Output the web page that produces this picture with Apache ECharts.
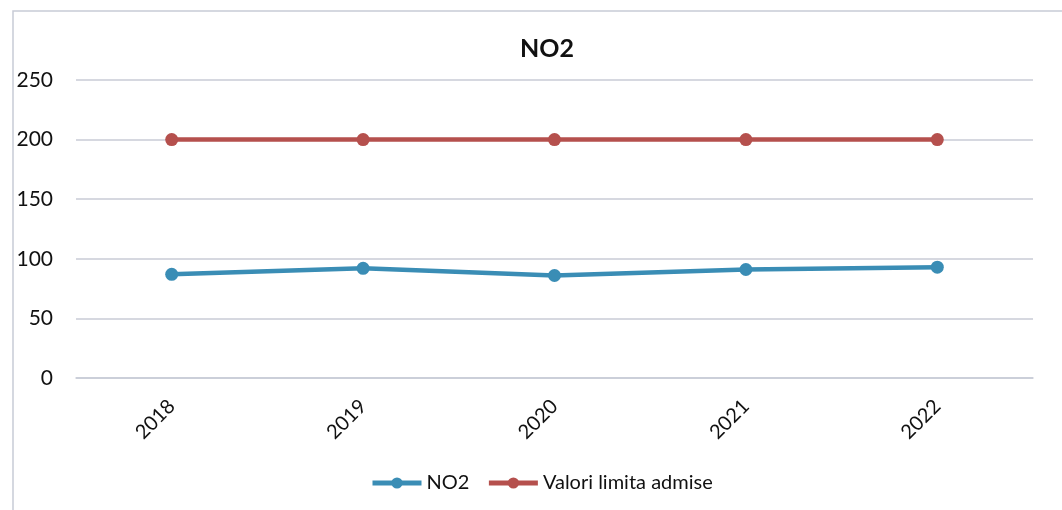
<!DOCTYPE html>
<html><head><meta charset="utf-8">
<script src="https://cdn.jsdelivr.net/npm/echarts@6/dist/echarts.min.js"></script>
<style>html,body{margin:0;padding:0;background:#fff}#c{width:1062px;height:510px}</style>
</head><body><div id="c"></div>
<script>
const categories = ['2018','2019','2020','2021','2022'];
const no2Values = [87, 92, 86, 91, 93];
const limitValues = [200, 200, 200, 200, 200];
const seriesNames = ['NO2', 'Valori limita admise'];
const chartTitle = 'NO2';

const font = 'Lato, "Open Sans", sans-serif';
const chart = echarts.init(document.getElementById('c'));
chart.setOption({
  animation: false,
  backgroundColor: '#fff',
  graphic: [{type:'rect', shape:{x:13, y:11, width:1060, height:520}, style:{fill:'none', stroke:'#c8cbd6', lineWidth:1.5}, silent:true}],
  title: {text: chartTitle, left: 515, top: 31, textStyle:{fontFamily:font, fontSize:25, fontWeight:'bold', color:'#111'}},
  grid: {left: 76, right: 29, top: 80, bottom: 132},
  legend: {bottom: 12, left: 365, itemWidth: 49, itemHeight: 14, itemGap: 17,
    lineStyle:{width:5},
    textStyle:{fontFamily:font, fontSize:20, color:'#111'}, data: seriesNames},
  xAxis: {type:'category', data: categories, boundaryGap: true,
    axisLine:{show:true, lineStyle:{color:'#c8cbd6', width:1.5}}, axisTick:{show:false},
    axisLabel:{rotate:45, fontFamily:font, fontSize:20, color:'#111', margin:25}},
  yAxis: {type:'value', min:0, max:250, interval:50,
    axisLine:{show:false}, axisTick:{show:false},
    splitLine:{lineStyle:{color:'#c8cbd6', width:1.5}},
    axisLabel:{fontFamily:font, fontSize:21, color:'#111', margin:23}},
  series: [
    {name: seriesNames[0], type:'line', data: no2Values, symbol:'circle', symbolSize:13,
     lineStyle:{width:4.5, color:'#3a8db5'}, itemStyle:{color:'#3a8db5'}},
    {name: seriesNames[1], type:'line', data: limitValues, symbol:'circle', symbolSize:13,
     lineStyle:{width:4.5, color:'#b5504d'}, itemStyle:{color:'#b5504d'}}
  ]
});
</script></body></html>
